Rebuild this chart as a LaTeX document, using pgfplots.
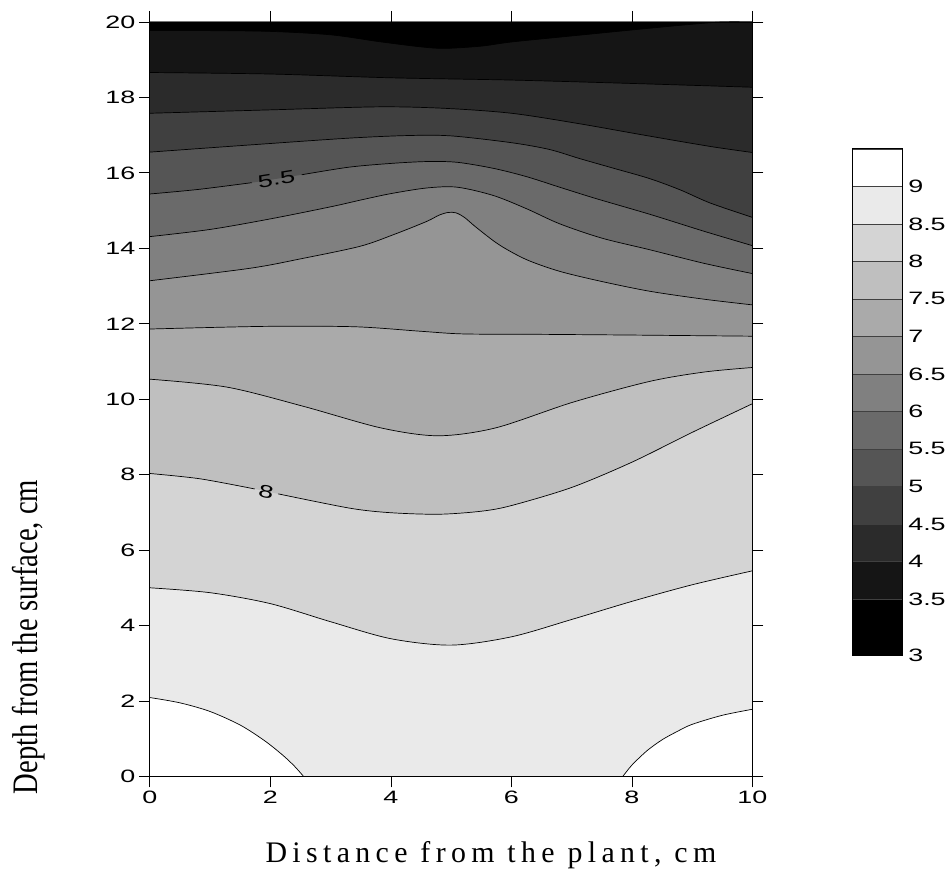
\documentclass[border=0pt]{standalone}
\usepackage{fontspec}
\setmainfont{Liberation Serif}
\newfontfamily\arialf{Liberation Sans}
\newfontfamily\spacedserif[LetterSpace=18]{Liberation Serif}
\usepackage{graphicx}
\usepackage{pgfplots}
\pgfplotsset{compat=1.18}
\usepgfplotslibrary{fillbetween}
\usepackage{pgfplotstable}

\newcommand{\tl}[1]{\scalebox{1.5}[1]{#1}}
\newcommand{\tickfont}{\arialf\fontsize{18}{18}\selectfont}

\definecolor{g0}{gray}{0}
\definecolor{g1}{gray}{0.0833}
\definecolor{g2}{gray}{0.1667}
\definecolor{g3}{gray}{0.25}
\definecolor{g4}{gray}{0.3333}
\definecolor{g5}{gray}{0.4167}
\definecolor{g6}{gray}{0.5}
\definecolor{g7}{gray}{0.5833}
\definecolor{g8}{gray}{0.6667}
\definecolor{g9}{gray}{0.75}
\definecolor{g10}{gray}{0.8333}
\definecolor{g11}{gray}{0.9167}
\definecolor{g12}{gray}{1}

% contour lines (x = distance, y = depth)
\pgfplotstableread[row sep=\\]{x y\\ 0 2.09\\ 0.5 1.95\\ 1 1.72\\ 1.5 1.36\\ 1.9 0.95\\ 2.2 0.57\\ 2.4 0.27\\ 2.55 0\\}\LnineA
\pgfplotstableread[row sep=\\]{x y\\ 7.85 0\\ 8 0.3\\ 8.25 0.68\\ 8.5 0.97\\ 8.75 1.19\\ 9 1.38\\ 9.5 1.62\\ 10 1.78\\}\LnineB
\pgfplotstableread[row sep=\\]{x y\\ 0 5.0\\ 1 4.87\\ 2 4.58\\ 3 4.1\\ 4 3.65\\ 5 3.48\\ 6 3.7\\ 7 4.16\\ 8 4.64\\ 9 5.08\\ 10 5.45\\}\Leightfive
\pgfplotstableread[row sep=\\]{x y\\ 0 8.03\\ 0.83 7.89\\ 1.74 7.62\\ 2.13 7.49\\ 3.32 7.11\\ 4 6.99\\ 4.8 6.95\\ 5.5 7.03\\ 6 7.18\\ 7 7.66\\ 8 8.33\\ 9 9.12\\ 10 9.88\\}\Leight
\pgfplotstableread[row sep=\\]{x y\\ 0 10.53\\ 1.28 10.32\\ 2.55 9.81\\ 3.83 9.24\\ 4.78 9.03\\ 5.74 9.24\\ 7.02 9.92\\ 8.29 10.47\\ 9.2 10.72\\ 10 10.84\\}\Lsevenfive
\pgfplotstableread[row sep=\\]{x y\\ 0 11.86\\ 1.9 11.93\\ 3.4 11.92\\ 4.5 11.80\\ 5.2 11.73\\ 6.4 11.72\\ 8 11.70\\ 10 11.67\\}\Lseven
\pgfplotstableread[row sep=\\]{x y\\ 0 13.14\\ 1.66 13.47\\ 2.5 13.72\\ 3.48 14.05\\ 4.04 14.36\\ 4.59 14.71\\ 4.8 14.88\\ 4.95 14.95\\ 5.08 14.94\\ 5.22 14.82\\ 5.42 14.55\\ 5.80 14.09\\ 6.25 13.70\\ 6.80 13.39\\ 7.5 13.12\\ 8.3 12.86\\ 9.2 12.65\\ 10 12.5\\}\Lsixfive
\pgfplotstableread[row sep=\\]{x y\\ 0 14.31\\ 1 14.5\\ 2 14.78\\ 3 15.1\\ 3.5 15.28\\ 4 15.45\\ 4.6 15.6\\ 5.1 15.62\\ 5.7 15.4\\ 6.25 15.05\\ 6.8 14.65\\ 7.5 14.27\\ 8.3 13.96\\ 9.2 13.6\\ 10 13.33\\}\Lsix
\pgfplotstableread[row sep=\\]{x y\\ 0 15.44\\ 0.8 15.56\\ 1.69 15.74\\ 2.52 15.95\\ 3.3 16.15\\ 4 16.25\\ 4.6 16.30\\ 5.1 16.28\\ 5.7 16.12\\ 6.25 15.90\\ 6.8 15.62\\ 7.4 15.32\\ 8.3 14.9\\ 9.2 14.45\\ 10 14.07\\}\Lfivefive
\pgfplotstableread[row sep=\\]{x y\\ 0 16.55\\ 1.66 16.74\\ 3.3 16.92\\ 4.3 16.99\\ 5 16.98\\ 6 16.80\\ 6.63 16.62\\ 7.13 16.38\\ 7.7 16.12\\ 8.29 15.85\\ 8.8 15.55\\ 9.3 15.2\\ 10 14.82\\}\Lfive
\pgfplotstableread[row sep=\\]{x y\\ 0 17.58\\ 2 17.67\\ 3.8 17.75\\ 4.9 17.71\\ 6 17.58\\ 7.1 17.31\\ 8.2 17.0\\ 9.3 16.70\\ 10 16.54\\}\Lfourfive
\pgfplotstableread[row sep=\\]{x y\\ 0 18.66\\ 2 18.62\\ 4 18.52\\ 6 18.46\\ 8 18.37\\ 10 18.27\\}\Lfour
\pgfplotstableread[row sep=\\]{x y\\ 0 19.77\\ 1 19.77\\ 2 19.75\\ 3 19.66\\ 3.8 19.48\\ 4.5 19.34\\ 4.9 19.30\\ 5.5 19.36\\ 6 19.47\\ 7 19.63\\ 8.2 19.82\\ 9 19.94\\ 9.5 20.0\\ 10 20.0\\}\Lthreefive

\begin{document}
\begin{tikzpicture}
\begin{axis}[
  at={(150bp,104bp)}, anchor=south west,
  scale only axis, width=603bp, height=755bp,
  xmin=0, xmax=10, ymin=0, ymax=20,
  xtick={0,2,4,6,8,10}, ytick={0,2,4,6,8,10,12,14,16,18,20},
  tick align=outside, major tick length=11bp,
  tick style={black, line width=0.8bp},
  axis line style={black, line width=0.9bp},
  axis on top,
  /pgf/number format/assume math mode=true,
  tick label style={font=\tickfont},
  xticklabel={\tl{\pgfmathprintnumber{\tick}}},
  yticklabel={\tl{\pgfmathprintnumber{\tick}}},
  axis background/.style={fill=g11},
  xlabel={\spacedserif\fontsize{30}{30}\selectfont Distance from the plant, cm},
  xlabel style={at={(axis description cs:0.566,-0.1045)}, anchor=center},
  ylabel={\fontsize{36}{36}\selectfont\scalebox{0.8}[1]{Depth from the surface, cm}},
  ylabel style={at={(axis description cs:-0.201,0.1848)}, anchor=center},
  cline/.style={black, line width=0.7bp, smooth},
]
\addplot[name path=top, draw=none] coordinates {(0,20) (10,20)};
\addplot[name path=bot, draw=none] coordinates {(0,0) (10,0)};
\addplot[name path=p9a, draw=none, smooth] table {\LnineA};
\addplot[name path=p9b, draw=none, smooth] table {\LnineB};
\addplot[name path=p85, draw=none, smooth] table {\Leightfive};
\addplot[name path=p8, draw=none, smooth] table {\Leight};
\addplot[name path=p75, draw=none, smooth] table {\Lsevenfive};
\addplot[name path=p7, draw=none, smooth] table {\Lseven};
\addplot[name path=p65, draw=none, smooth] table {\Lsixfive};
\addplot[name path=p6, draw=none, smooth] table {\Lsix};
\addplot[name path=p55, draw=none, smooth] table {\Lfivefive};
\addplot[name path=p5, draw=none, smooth] table {\Lfive};
\addplot[name path=p45, draw=none, smooth] table {\Lfourfive};
\addplot[name path=p4, draw=none, smooth] table {\Lfour};
\addplot[name path=p35, draw=none, smooth] table {\Lthreefive};

\addplot[g12] fill between[of=p9a and bot];
\addplot[g12] fill between[of=p9b and bot];
\addplot[g10] fill between[of=p85 and top];
\addplot[g9] fill between[of=p8 and top];
\addplot[g8] fill between[of=p75 and top];
\addplot[g7] fill between[of=p7 and top];
\addplot[g6] fill between[of=p65 and top];
\addplot[g5] fill between[of=p6 and top];
\addplot[g4] fill between[of=p55 and top];
\addplot[g3] fill between[of=p5 and top];
\addplot[g2] fill between[of=p45 and top];
\addplot[g1] fill between[of=p4 and top];
\addplot[g0] fill between[of=p35 and top];

\addplot[cline] table {\LnineA};
\addplot[cline] table {\LnineB};
\addplot[cline] table {\Leightfive};
\addplot[cline, restrict x to domain=0:1.75] table {\Leight};
\addplot[cline, restrict x to domain=2.12:10] table {\Leight};
\addplot[cline] table {\Lsevenfive};
\addplot[cline] table {\Lseven};
\addplot[cline] table {\Lsixfive};
\addplot[cline] table {\Lsix};
\addplot[cline, restrict x to domain=0:1.7] table {\Lfivefive};
\addplot[cline, restrict x to domain=2.51:10] table {\Lfivefive};
\addplot[cline] table {\Lfive};
\addplot[cline] table {\Lfourfive};
\addplot[cline] table {\Lfour};
\addplot[cline] table {\Lthreefive};

\node[rotate=9, font=\tickfont, inner sep=0pt] at (axis cs:2.1,15.83) {\tl{5.5}};
\node[rotate=-11, font=\tickfont, inner sep=0pt] at (axis cs:1.93,7.55) {\tl{8}};
\end{axis}

\begin{axis}[
  at={(853bp,225.3bp)}, anchor=south west,
  scale only axis, width=50bp, height=506.7bp,
  xmin=0, xmax=1, ymin=2.75, ymax=9.5,
  xtick=\empty,
  ytick={2.75,3.5,4,4.5,5,5.5,6,6.5,7,7.5,8,8.5,9},
  yticklabels={\tl{3},\tl{3.5},\tl{4},\tl{4.5},\tl{5},\tl{5.5},\tl{6},\tl{6.5},\tl{7},\tl{7.5},\tl{8},\tl{8.5},\tl{9}},
  yticklabel pos=right, major tick length=0pt,
  tick label style={font=\tickfont},
  yticklabel style={anchor=west, xshift=2.5bp},
  axis line style={black, line width=0.9bp},
  axis on top,
  band/.style={draw=black!75, line width=0.6bp},
]
\addplot[band, fill=g0]  coordinates {(0,2.75) (1,2.75) (1,3.5) (0,3.5)} -- cycle;
\addplot[band, fill=g1]  coordinates {(0,3.5) (1,3.5) (1,4) (0,4)} -- cycle;
\addplot[band, fill=g2]  coordinates {(0,4) (1,4) (1,4.5) (0,4.5)} -- cycle;
\addplot[band, fill=g3]  coordinates {(0,4.5) (1,4.5) (1,5) (0,5)} -- cycle;
\addplot[band, fill=g4]  coordinates {(0,5) (1,5) (1,5.5) (0,5.5)} -- cycle;
\addplot[band, fill=g5]  coordinates {(0,5.5) (1,5.5) (1,6) (0,6)} -- cycle;
\addplot[band, fill=g6]  coordinates {(0,6) (1,6) (1,6.5) (0,6.5)} -- cycle;
\addplot[band, fill=g7]  coordinates {(0,6.5) (1,6.5) (1,7) (0,7)} -- cycle;
\addplot[band, fill=g8]  coordinates {(0,7) (1,7) (1,7.5) (0,7.5)} -- cycle;
\addplot[band, fill=g9]  coordinates {(0,7.5) (1,7.5) (1,8) (0,8)} -- cycle;
\addplot[band, fill=g10] coordinates {(0,8) (1,8) (1,8.5) (0,8.5)} -- cycle;
\addplot[band, fill=g11] coordinates {(0,8.5) (1,8.5) (1,9) (0,9)} -- cycle;
\addplot[band, fill=g12] coordinates {(0,9) (1,9) (1,9.5) (0,9.5)} -- cycle;
\end{axis}
\path[use as bounding box] (0,0) rectangle (949bp,881bp);
\end{tikzpicture}
\end{document}
